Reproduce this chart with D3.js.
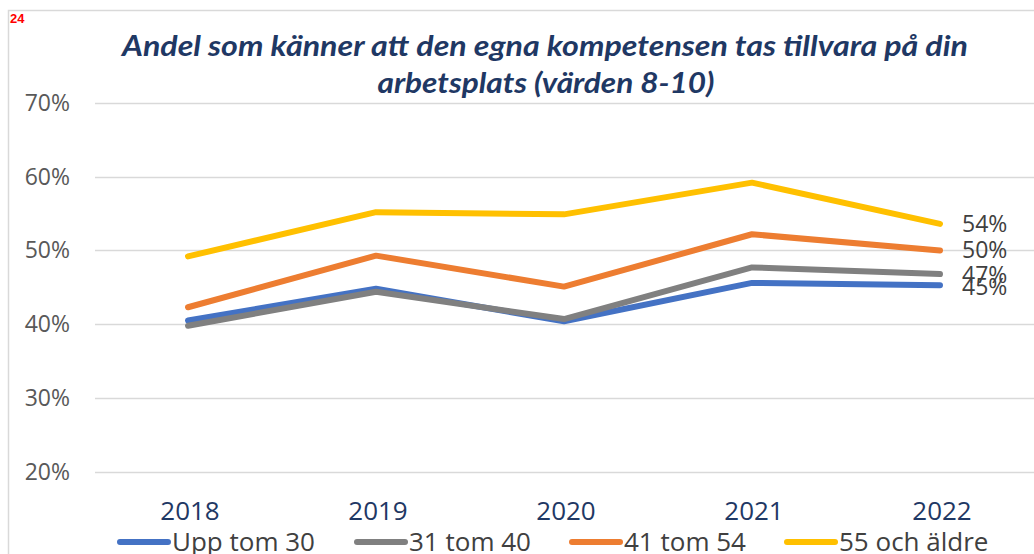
<!DOCTYPE html>
<html>
<head>
<meta charset="utf-8">
<script src="https://cdnjs.cloudflare.com/ajax/libs/d3/7.8.5/d3.min.js"></script>
<style>
  html, body { margin: 0; padding: 0; background: #fff; overflow: hidden; }
  svg { display: block; }
</style>
</head>
<body>
<div id="chart"></div>
<script>
// chart data
var years = ['2018', '2019', '2020', '2021', '2022'];
var seriesNames = ['Upp tom 30', '31 tom 40', '41 tom 54', '55 och äldre'];
var uppTom30 = [40.5, 44.8, 40.4, 45.6, 45.3];
var tom31_40 = [39.8, 44.4, 40.7, 47.7, 46.8];
var tom41_54 = [42.3, 49.3, 45.1, 52.2, 50.0];
var och55 = [49.2, 55.2, 54.9, 59.2, 53.6];
var endLabels = ['45%', '47%', '50%', '54%'];
var yTicks = [20, 30, 40, 50, 60, 70];
var colors = ['#4472C4', '#808080', '#ED7D31', '#FFC000'];

var width = 1034, height = 554;
var margin = {top: 103, right: 0, bottom: 82, left: 94};

var svg = d3.select('#chart').append('svg')
    .attr('width', width)
    .attr('height', height);

// frame
svg.append('path')
    .attr('d', 'M8.5,' + height + 'V10.5H' + width)
    .attr('fill', 'none')
    .attr('stroke', '#d9d9d9')
    .attr('stroke-width', 1.5);

svg.append('text')
    .attr('x', 10).attr('y', 23)
    .attr('fill', '#ff0000')
    .style('font', 'bold 13px "Liberation Sans", Arial, sans-serif')
    .text('24');

var title = svg.append('text')
    .attr('text-anchor', 'middle')
    .attr('fill', '#1F3864')
    .style('font', 'italic bold 29px Lato, "Open Sans", sans-serif');
title.append('tspan').attr('x', 545).attr('y', 56)
    .attr('textLength', 846).attr('lengthAdjust', 'spacingAndGlyphs')
    .text('Andel som känner att den egna kompetensen tas tillvara på din');
title.append('tspan').attr('x', 546).attr('y', 93)
    .attr('textLength', 337).attr('lengthAdjust', 'spacingAndGlyphs')
    .text('arbetsplats (värden 8-10)');

var x = d3.scalePoint()
    .domain(years)
    .range([margin.left, width - margin.right])
    .padding(0.5);

var y = d3.scaleLinear()
    .domain([20, 70])
    .range([height - margin.bottom - 0.3, margin.top]);

// gridlines
svg.append('g')
    .selectAll('line')
    .data(yTicks)
    .enter()
    .append('line')
    .attr('x1', margin.left + 1)
    .attr('x2', width)
    .attr('y1', function(d) { return Math.round(y(d)) + 0.5; })
    .attr('y2', function(d) { return Math.round(y(d)) + 0.5; })
    .attr('stroke', '#d9d9d9')
    .attr('stroke-width', 1.5);

// y tick labels
svg.append('g')
    .selectAll('text')
    .data(yTicks)
    .enter()
    .append('text')
    .attr('x', 70)
    .attr('y', function(d) { return y(d) + 8; })
    .attr('text-anchor', 'end')
    .attr('fill', '#595959')
    .style('font', '23px "Open Sans", "Noto Sans", sans-serif')
    .text(function(d) { return d + '%'; });

// x labels
svg.append('g')
    .selectAll('text')
    .data(years)
    .enter()
    .append('text')
    .attr('x', function(d) { return x(d) + 2; })
    .attr('y', 520)
    .attr('text-anchor', 'middle')
    .attr('fill', '#1F3864')
    .style('font', '26px "Open Sans", "Noto Sans", sans-serif')
    .text(function(d) { return d; });

var allSeries = [uppTom30, tom31_40, tom41_54, och55];

var line = d3.line()
    .x(function(d, i) { return x(years[i]); })
    .y(function(d) { return y(d); });

svg.append('g')
    .selectAll('path')
    .data(allSeries)
    .enter()
    .append('path')
    .attr('d', function(d) { return line(d); })
    .attr('fill', 'none')
    .attr('stroke', function(d, i) { return colors[i]; })
    .attr('stroke-width', 6)
    .attr('stroke-linecap', 'round')
    .attr('stroke-linejoin', 'round');

// end labels (they overlap in the original too)
var labelOffsets = [10, 9, 8, 8];
svg.append('g')
    .selectAll('text')
    .data(allSeries)
    .enter()
    .append('text')
    .attr('x', x(years[4]) + 22)
    .attr('y', function(d, i) { return y(d[4]) + labelOffsets[i]; })
    .attr('fill', '#404040')
    .style('font', '23px "Open Sans", "Noto Sans", sans-serif')
    .text(function(d, i) { return endLabels[i]; });

// legend
var legendX = [118, 355, 570, 785];
var legend = svg.append('g')
    .selectAll('g')
    .data(seriesNames)
    .enter()
    .append('g')
    .attr('transform', function(d, i) { return 'translate(' + legendX[i] + ',542)'; });
legend.append('line')
    .attr('x1', 2).attr('x2', 50)
    .attr('stroke', function(d, i) { return colors[i]; })
    .attr('stroke-width', 6)
    .attr('stroke-linecap', 'round');
legend.append('text')
    .attr('x', 54)
    .attr('y', 9)
    .attr('fill', '#404040')
    .style('font', '26px "Open Sans", "Noto Sans", sans-serif')
    .text(function(d) { return d; });
</script>
</body>
</html>
